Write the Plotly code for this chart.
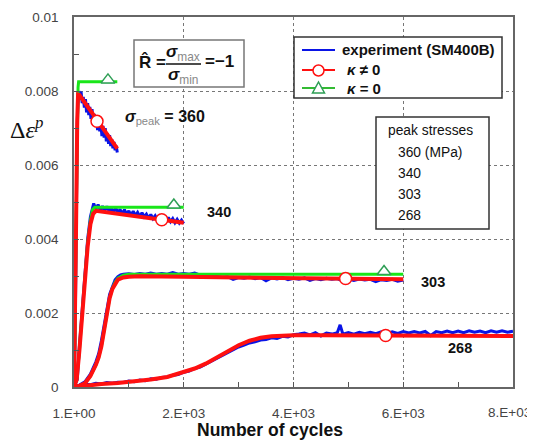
import plotly.graph_objects as go

# ---------------- data ----------------
# peak stress 360 MPa
red360_x = [1, 20, 40, 60, 75, 100, 200, 300, 400, 500, 600, 700, 790]
red360_y = [0, 0.0015, 0.0045, 0.0072, 0.0079, 0.00789, 0.00768, 0.00747, 0.00726, 0.00705, 0.00684, 0.00663, 0.00644]
green360_x = [1, 20, 40, 60, 75, 85, 790]
green360_y = [0, 0.0015, 0.0045, 0.0070, 0.0081, 0.00825, 0.00825]
blue360_x = [1, 20, 40, 50, 60, 70, 80, 90, 110, 130, 150, 170, 190, 210, 230, 250, 270, 290, 310, 330, 350,
             370, 390, 410, 430, 450, 470, 490, 510, 530, 550, 570, 590, 610, 630, 650, 670, 690, 710,
             730, 750, 770, 790]
blue360_y = [0, 0.0012, 0.0040, 0.0065, 0.0071, 0.0076, 0.0080, 0.0080, 0.00777, 0.00798, 0.00767, 0.00784,
             0.00755, 0.00778, 0.00742, 0.00767, 0.00735, 0.00757, 0.00725, 0.00751, 0.00714, 0.00738,
             0.00708, 0.00732, 0.00694, 0.00725, 0.00691, 0.00712, 0.00678, 0.00706, 0.00674, 0.00700,
             0.00664, 0.00686, 0.00657, 0.00681, 0.00651, 0.00670, 0.00645, 0.00662, 0.00640, 0.00652,
             0.00634]

# peak stress 340 MPa
red340_x = [1, 50, 100, 150, 200, 250, 300, 350, 400, 600, 1000, 1400, 1600, 2000]
red340_y = [0, 0.0002, 0.0010, 0.0020, 0.0030, 0.0038, 0.0044, 0.00468, 0.00476, 0.00472, 0.00465,
            0.00457, 0.00452, 0.00444]
green340_x = [1, 50, 100, 150, 200, 250, 300, 340, 380, 2000]
green340_y = [0, 0.0002, 0.0010, 0.0020, 0.0030, 0.0039, 0.0045, 0.0048, 0.00486, 0.00486]
blue340_x = [1, 60, 100, 150, 200, 250, 300, 340, 360, 400, 440, 480, 520, 560, 600, 640, 680, 720, 760,
             800, 840, 880, 920, 960, 1000, 1040, 1080, 1120, 1160, 1200, 1240, 1280, 1320, 1360, 1400,
             1440, 1480, 1520, 1560, 1600, 1640, 1680, 1720, 1760, 1800, 1840, 1880, 1920, 1960, 2000]
blue340_y = [0, 0.0002, 0.0011, 0.0021, 0.0031, 0.0040, 0.0046, 0.0049, 0.00496, 0.00481, 0.00493,
             0.00477, 0.00489, 0.00476, 0.00488, 0.00475, 0.00485, 0.00472, 0.00484, 0.00471, 0.00480,
             0.00468, 0.00479, 0.00467, 0.00476, 0.00464, 0.00475, 0.00463, 0.00472, 0.00461, 0.00471,
             0.00460, 0.00467, 0.00456, 0.00466, 0.00455, 0.00463, 0.00452, 0.00462, 0.00451, 0.00459,
             0.00448, 0.00458, 0.00447, 0.00455, 0.00444, 0.00453, 0.00443, 0.00451, 0.00442]

# peak stress 303 MPa
red303_x = [1, 100, 200, 300, 400, 450, 500, 550, 600, 650, 700, 750, 800, 900, 1000, 1200, 1500, 2000,
            3000, 4000, 5000, 6000]
red303_y = [0, 0.00003, 0.0001, 0.0003, 0.0006, 0.0008, 0.0011, 0.0015, 0.0020, 0.0024, 0.00265, 0.0028,
            0.0029, 0.00296, 0.00298, 0.00299, 0.00299, 0.00298, 0.00296, 0.00294, 0.00293, 0.00291]
green303_x = [1, 100, 200, 300, 400, 450, 500, 550, 600, 650, 700, 750, 800, 900, 1000, 6000]
green303_y = [0, 0.00003, 0.0001, 0.0003, 0.0006, 0.0008, 0.0011, 0.0015, 0.0020, 0.0024, 0.00266, 0.00283,
              0.00294, 0.00302, 0.00305, 0.00305]
blue303_x = [1, 100, 200, 300, 400, 450, 500, 550, 600, 650, 700, 750, 800, 850, 900,
             1000, 1100, 1200, 1300, 1400, 1500, 1600, 1700, 1800, 1900, 2000, 2100, 2200, 2300, 2400,
             2500, 2600, 2700, 2800, 2900, 3000, 3100, 3200, 3300, 3400, 3500, 3600, 3700, 3800, 3900,
             4000, 4100, 4200, 4300, 4400, 4500, 4600, 4700, 4800, 4900, 5000, 5100, 5200, 5300, 5400,
             5500, 5600, 5700, 5800, 5900, 6000]
blue303_y = [0, 0.00005, 0.00014, 0.00035, 0.00068, 0.0009, 0.00125, 0.0017, 0.00215, 0.0025, 0.0027,
             0.0029, 0.00298, 0.00303, 0.00305,
             0.00306, 0.00304, 0.00307, 0.00305, 0.00308, 0.00305, 0.00307, 0.00305, 0.00309, 0.00305,
             0.00307, 0.00305, 0.00308, 0.00302, 0.00300, 0.00298, 0.00299, 0.00296, 0.00298, 0.00291,
             0.00296, 0.00294, 0.00297, 0.00293, 0.00296, 0.00287, 0.00295, 0.00292, 0.00296, 0.00290,
             0.00294, 0.00291, 0.00295, 0.00288, 0.00293, 0.00290, 0.00294, 0.00291, 0.00293, 0.00286,
             0.00292, 0.00288, 0.00292, 0.00289, 0.00291, 0.00285, 0.00290, 0.00288, 0.00291, 0.00286,
             0.00289]

# peak stress 268 MPa
red268_x = [1, 200, 500, 800, 1100, 1400, 1700, 2000, 2200, 2400, 2600, 2800, 3000, 3200, 3400, 3600,
            3800, 4000, 4500, 5000, 6000, 7000, 8000]
red268_y = [0, 0.00004, 0.00008, 0.00011, 0.00015, 0.0002, 0.00027, 0.0004, 0.0005, 0.00063, 0.0008,
            0.00098, 0.00113, 0.00125, 0.00133, 0.00137, 0.00139, 0.0014, 0.0014, 0.0014, 0.00139,
            0.00138, 0.00138]
blue268_x = [1, 100, 200, 300, 400, 500, 600, 700, 800, 900, 1000, 1100, 1200, 1300, 1400, 1500, 1600,
             1700, 1800, 1900, 2000, 2100, 2200, 2300, 2400, 2500, 2600, 2700, 2800, 2900, 3000, 3100,
             3200, 3300, 3400, 3500, 3600, 3700, 3800, 3900, 4000, 4100, 4200, 4300, 4400, 4500, 4600,
             4700, 4800, 4850, 4900, 5000, 5100, 5200, 5300, 5400, 5500, 5600, 5700, 5800, 5900, 6000,
             6100, 6200, 6300, 6400, 6500, 6600, 6700, 6800, 6900, 7000, 7100, 7200, 7300, 7400, 7500,
             7600, 7700, 7800, 7900, 8000]
blue268_y = [0, 0.00004, 0.00008, 0.00006, 0.00010, 0.00008, 0.00012, 0.00010, 0.00013, 0.00012, 0.00016,
             0.00014, 0.00019, 0.00017, 0.00022, 0.00021, 0.00026, 0.00027, 0.00032, 0.00034, 0.00040,
             0.00043, 0.00050, 0.00054, 0.00062, 0.00068, 0.00077, 0.00085, 0.00094, 0.00100, 0.00108,
             0.00113, 0.00119, 0.00122, 0.00127, 0.00128, 0.00133, 0.00131, 0.00137, 0.00135, 0.00141,
             0.00143, 0.00146, 0.00141, 0.00147, 0.00138, 0.00146, 0.00143, 0.00147, 0.00168, 0.00143,
             0.00147, 0.00143, 0.00148, 0.00144, 0.00148, 0.00144, 0.00149, 0.00145, 0.00149, 0.00145,
             0.00150, 0.00146, 0.00150, 0.00146, 0.00150, 0.00139, 0.00150, 0.00147, 0.00151, 0.00147,
             0.00151, 0.00147, 0.00152, 0.00148, 0.00151, 0.00147, 0.00152, 0.00148, 0.00152, 0.00148,
             0.00151]

# marker positions
circle_x = [420, 1600, 4950, 5680]
circle_y = [0.00718, 0.00452, 0.00293, 0.00139]
tri_x = [620, 1820, 5650]
tri_y = [0.00830, 0.00492, 0.00312]

x_tickvals = [1, 2000, 4000, 6000, 8000]
x_ticktext = ["1.E+00", "2.E+03", "4.E+03", "6.E+03", "8.E+03"]
y_tickvals = [0, 0.002, 0.004, 0.006, 0.008, 0.01]
y_ticktext = ["0", "0.002", "0.004", "0.006", "0.008", "0.01"]

legend_names = ["<b>experiment (SM400B)</b>", "<b><i>κ</i> ≠ 0</b>", "<b><i>κ</i> = 0</b>"]
curve_labels = ["340", "303", "268"]
peak_list = ["360 (MPa)", "340", "303", "268"]

# ---------------- figure ----------------
BLUE = "#0a14e6"
RED = "#ff1010"
GREEN = "#19e619"
TRI = "#2e9e55"
FONT = "Liberation Sans, Arial, sans-serif"

fig = go.Figure()
for xs, ys in [(blue360_x, blue360_y), (blue340_x, blue340_y), (blue303_x, blue303_y), (blue268_x, blue268_y)]:
    fig.add_trace(go.Scatter(x=xs, y=ys, mode="lines", line=dict(color=BLUE, width=3),
                             showlegend=False, hoverinfo="skip"))
for xs, ys in [(green360_x, green360_y), (green340_x, green340_y), (green303_x, green303_y)]:
    fig.add_trace(go.Scatter(x=xs, y=ys, mode="lines", line=dict(color=GREEN, width=3),
                             showlegend=False, hoverinfo="skip"))
for xs, ys in [(red360_x, red360_y), (red340_x, red340_y), (red303_x, red303_y), (red268_x, red268_y)]:
    fig.add_trace(go.Scatter(x=xs, y=ys, mode="lines", line=dict(color=RED, width=4),
                             showlegend=False, hoverinfo="skip"))
fig.add_trace(go.Scatter(x=circle_x, y=circle_y, mode="markers", showlegend=False,
                         marker=dict(symbol="circle", size=12, color="white", line=dict(color=RED, width=1.5))))
fig.add_trace(go.Scatter(x=tri_x, y=tri_y, mode="markers", showlegend=False,
                         marker=dict(symbol="triangle-up", size=12, color="white", line=dict(color=TRI, width=1.5))))

# plot area in window pixels (page body has an 8px margin)
OFF = 8
L, R, T, B = 74, 513, 17, 387
W, H = 535 - OFF, 441 - OFF
def px(x):
    return (x - L) / (R - L)
def py(y):
    return (B - y) / (B - T)

annotations = []
shapes = []

# legend box (drawn by hand)
shapes.append(dict(type="rect", xref="paper", yref="paper", x0=px(294), x1=px(502), y0=py(98), y1=py(37),
                   line=dict(color="#333", width=1.5), fillcolor="white", layer="above"))
for col, yy in zip([BLUE, RED, "#33bb33"], [50, 70, 88]):
    shapes.append(dict(type="line", xref="paper", yref="paper", x0=px(302), x1=px(335), y0=py(yy), y1=py(yy),
                       line=dict(color=col, width=2), layer="above"))
shapes.append(dict(type="circle", xref="paper", yref="paper", x0=px(313), x1=px(324), y0=py(76), y1=py(65),
                   line=dict(color=RED, width=1.5), fillcolor="white", layer="above"))
shapes.append(dict(type="path", xref="paper", yref="paper",
                   path="M {} {} L {} {} L {} {} Z".format(px(312.5), py(93), px(324.5), py(93), px(318.5), py(82)),
                   line=dict(color=TRI, width=1.5), fillcolor="white", layer="above"))
for name, xx, yy in zip(legend_names, [340, 345, 345], [50, 70, 88]):
    annotations.append(dict(x=px(xx), y=py(yy), xanchor="left", text=name, font=dict(size=15, color="#111")))

# R-hat box
shapes.append(dict(type="rect", xref="paper", yref="paper", x0=px(134), x1=px(244), y0=py(87), y1=py(40),
                   line=dict(color="#777", width=1.5), fillcolor="white", layer="above"))
shapes.append(dict(type="line", xref="paper", yref="paper", x0=px(166), x1=px(201), y0=py(64), y1=py(64),
                   line=dict(color="#111", width=1.5), layer="above"))
annotations += [
    dict(x=px(137), y=py(62), text="<b>R̂ =</b>", xanchor="left", font=dict(size=17, color="#111")),
    dict(x=px(183), y=py(53), text="<b><i>σ</i></b><sub><span style='color:#888'>max</span></sub>",
         xanchor="center", font=dict(size=17, color="#111")),
    dict(x=px(183), y=py(76), text="<b><i>σ</i></b><sub><span style='color:#888'>min</span></sub>",
         xanchor="center", font=dict(size=17, color="#111")),
    dict(x=px(203), y=py(62), text="<b>=−1</b>", xanchor="left", font=dict(size=17, color="#111")),
]
# sigma peak
annotations.append(dict(x=px(123), y=py(117), xanchor="left",
                        text="<b><i>σ</i></b><sub><span style='color:#888'>peak</span></sub><b> = 360</b>",
                        font=dict(size=16, color="#111")))
# curve labels
for lab, xx, yy in zip(curve_labels, [205, 419, 446], [212, 282, 348]):
    annotations.append(dict(x=px(xx), y=py(yy), xanchor="left", text="<b>" + lab + "</b>",
                            font=dict(size=14.5, color="#111")))
# peak stresses box
shapes.append(dict(type="rect", xref="paper", yref="paper", x0=px(376), x1=px(489), y0=py(229), y1=py(117),
                   line=dict(color="#333", width=1.5), fillcolor="white", layer="above"))
annotations.append(dict(x=px(386), y=py(130), xanchor="left", text="peak stresses",
                        font=dict(size=13.8, color="#111")))
for lab, yy in zip(peak_list, [152, 173, 194, 215]):
    annotations.append(dict(x=px(396), y=py(yy), xanchor="left", text=lab, font=dict(size=13.8, color="#111")))
# last x tick label placed by hand so it is not clipped at the page edge
annotations.append(dict(x=px(533), y=py(412), xanchor="right", text=x_ticktext[-1],
                        font=dict(size=13.5, color="#444")))
# axis titles
annotations.append(dict(x=px(270), y=py(430), xanchor="center", text="<b>Number of cycles</b>",
                        font=dict(size=17.5, color="#111")))
annotations.append(dict(x=px(8), y=py(128), xanchor="left",
                        text="Δ<i>ε</i><sup><i>p</i></sup>",
                        font=dict(size=24, color="#111", family="Liberation Serif, Times New Roman, serif")))
for a in annotations:
    a.setdefault("xref", "paper")
    a.setdefault("yref", "paper")
    a.setdefault("showarrow", False)
    a.setdefault("yanchor", "middle")

fig.update_layout(
    width=W, height=H,
    margin=dict(l=L - OFF, r=535 - R, t=T - OFF, b=441 - B, autoexpand=False),
    paper_bgcolor="white", plot_bgcolor="white",
    font=dict(family=FONT, color="#111"),
    showlegend=False,
    annotations=annotations, shapes=shapes,
    xaxis=dict(range=[1, 8000], tickvals=x_tickvals, ticktext=x_ticktext[:-1] + [""], ticks="inside",
               ticklen=5, tickcolor="#555", showgrid=True, gridcolor="#777", griddash="dot", gridwidth=1,
               showline=True, mirror=True, linecolor="#666", linewidth=1.5, zeroline=False,
               ticklabelstandoff=13, tickfont=dict(size=13.5, color="#444"),
               minor=dict(dtick=1000, tick0=0, ticks="inside", ticklen=5, tickcolor="#555", showgrid=False)),
    yaxis=dict(range=[0, 0.01], tickvals=y_tickvals, ticktext=y_ticktext, ticks="inside", ticklen=5,
               tickcolor="#555", showgrid=True, gridcolor="#777", griddash="dot", gridwidth=1,
               showline=True, mirror=True, linecolor="#666", linewidth=1.5, zeroline=False,
               ticklabelstandoff=11, tickfont=dict(size=13.5, color="#444"),
               minor=dict(dtick=0.001, tick0=0, ticks="inside", ticklen=5, tickcolor="#555", showgrid=False)),
)

fig.write_html("out.html")
